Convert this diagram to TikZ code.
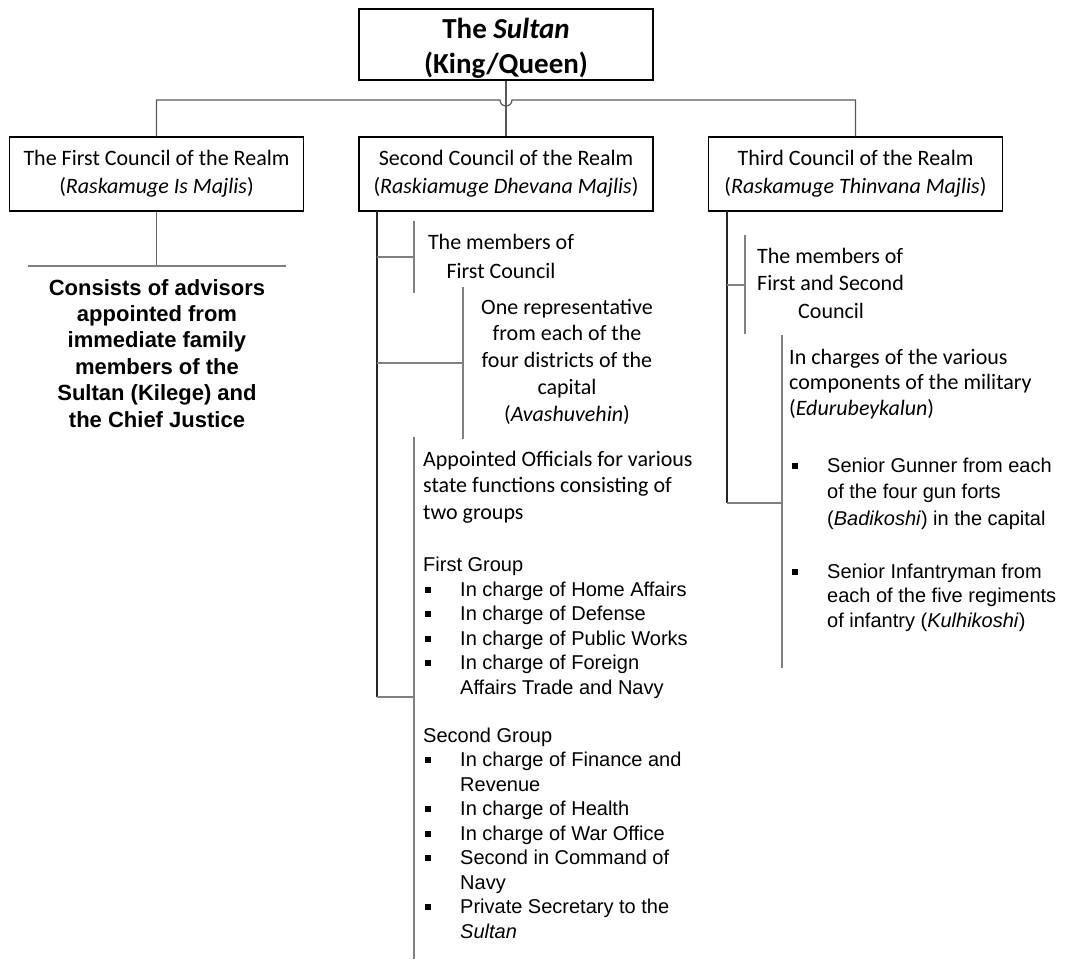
\documentclass[tikz,border=0pt]{standalone}
\usepackage{fontspec}
\setmainfont{Carlito}
\newfontfamily\arialf{Liberation Sans}
\newcommand\bul{\makebox[37pt][l]{\hspace*{2pt}\rule[3.5pt]{6pt}{6pt}}}
\newcommand\ind{\hspace*{37pt}}
\tikzset{
  box/.style={draw=black, line width=1.3pt, inner sep=0pt, align=center,
    minimum width=294pt, minimum height=74pt, font=\fontsize{22}{28}\selectfont},
  conn/.style={draw=black!65, line width=1.2pt},
  mainline/.style={draw=black!85, line width=1.3pt},
  subline/.style={draw=black!50, line width=1.5pt},
  caltxt/.style={inner sep=0pt, font=\fontsize{22}{26.7}\selectfont},
  artxt/.style={inner sep=0pt, align=left, font=\arialf\fontsize{20}{24.5}\selectfont},
}
\begin{document}
\begin{tikzpicture}[x=1pt,y=-1pt]
\useasboundingbox (0,0) rectangle (1065,959);

% boxes
\node[box, minimum height=71pt] (sultan) at (506,44.5) {};
\node[inner sep=0pt, anchor=base, align=center, font=\bfseries\fontsize{29}{35}\selectfont] (sultanT) at (506,73) {The \textit{Sultan}\\(King/Queen)};
\node[box] (c1) at (156.5,174) {The First Council of the Realm\\(\textit{Raskamuge Is Majlis})};
\node[box] (c2) at (506,174) {Second Council of the Realm\\(\textit{Raskiamuge Dhevana Majlis})};
\node[box] (c3) at (855.5,174) {Third Council of the Realm\\(\textit{Raskamuge Thinvana Majlis})};

% top connectors
\coordinate (hopL) at (500,100);
\coordinate (hopR) at (512,100);
\draw[conn] (sultan.south) -- (c2.north);
\draw[conn] (c1.north) -- (c1.north |- hopL) -- (hopL) arc[start angle=180, end angle=360, radius=6pt] -- (c3.north |- hopR) -- (c3.north);

% column 1
\coordinate (l1) at (28,266);
\coordinate (r1) at (286,266);
\draw[conn, draw=black!60, line width=1.5pt] (c1.south) -- (c1.south |- l1);
\draw[conn, draw=black!50, line width=1.5pt] (l1) -- (r1);
\node[inner sep=0pt, anchor=base, align=center, font=\arialf\bfseries\fontsize{22}{26.4}\selectfont] (adv) at (157,427)
  {Consists of advisors\\appointed from\\immediate family\\members of the\\Sultan (Kilege) and\\the Chief Justice};

% column 2
\coordinate (v2a) at (377,211);
\coordinate (v2b) at (377,697);
\coordinate (b21) at (414,257);
\coordinate (b22) at (463,363);
\coordinate (b23) at (414,697);
\draw[mainline] (v2a) -- (v2b);
\draw[subline] (v2a |- b21) -- (b21);
\draw[subline] (v2a |- b22) -- (b22);
\draw[subline] (v2b) -- (b23);
\draw[subline] (414,221) -- (414,293);
\draw[subline] (463,287) -- (463,439);
\draw[subline] (414,437) -- (414,959);

\node[caltxt, anchor=base, align=center, font=\fontsize{22}{29}\selectfont] (mem2) at (501,278) {The members of\\First Council};
\node[caltxt, anchor=base, align=center] (rep) at (567,421) {One representative\\from each of the\\four districts of the\\capital\\(\textit{Avashuvehin})};
\node[caltxt, anchor=base west, align=left, font=\fontsize{22}{26.5}\selectfont] (app) at (423,519) {Appointed Officials for various\\state functions consisting of\\two groups};
\node[artxt, anchor=base west] (g1) at (423,694) {First Group\\\bul In charge of Home Affairs\\\bul In charge of Defense\\\bul In charge of Public Works\\\bul In charge of Foreign\\\ind Affairs Trade and Navy};
\node[artxt, anchor=base west] (g2) at (423,938) {Second Group\\\bul In charge of Finance and\\\ind Revenue\\\bul In charge of Health\\\bul In charge of War Office\\\bul Second in Command of\\\ind Navy\\\bul Private Secretary to the\\\ind \textit{Sultan}};

% column 3
\coordinate (v3a) at (727,211);
\coordinate (v3b) at (727,503);
\coordinate (b31) at (745,285);
\coordinate (b32) at (782,503);
\draw[mainline] (v3a) -- (v3b);
\draw[subline] (v3a |- b31) -- (b31);
\draw[subline] (v3b) -- (b32);
\draw[subline] (745,235) -- (745,334);
\draw[subline] (782,335) -- (782,668);

\node[caltxt, anchor=base west, align=left, font=\fontsize{22}{27.5}\selectfont] (mem3) at (757,318) {The members of\\First and Second\\\hspace*{41pt}Council};
\node[caltxt, anchor=base west, align=left, font=\fontsize{22}{25.5}\selectfont] (mil) at (789,415) {In charges of the various\\components of the military\\(\textit{Edurubeykalun})};
\node[artxt, anchor=base west, font=\arialf\fontsize{20}{26.5}\selectfont] (gun) at (790,525) {\bul Senior Gunner from each\\\ind of the four gun forts\\\ind (\textit{Badikoshi}) in the capital};
\node[artxt, anchor=base west] (inf) at (790,627) {\bul Senior Infantryman from\\\ind each of the five regiments\\\ind of infantry (\textit{Kulhikoshi})};
\end{tikzpicture}
\end{document}
